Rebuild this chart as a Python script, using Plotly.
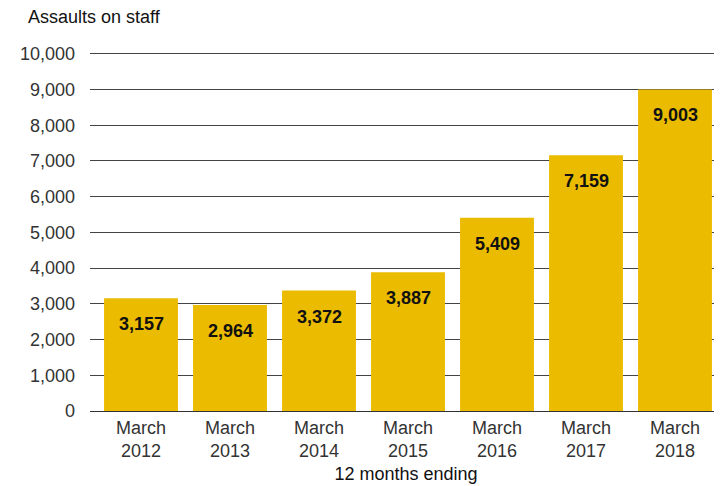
import plotly.graph_objects as go

categories = ["March<br>2012", "March<br>2013", "March<br>2014", "March<br>2015",
              "March<br>2016", "March<br>2017", "March<br>2018"]
values = [3157, 2964, 3372, 3887, 5409, 7159, 9003]
labels = [f"{v:,}" for v in values]
y_ticks = list(range(0, 10001, 1000))
y_tick_text = [f"{t:,}" for t in y_ticks]

FONT = "Liberation Sans, Arial, Helvetica, sans-serif"
FS = 18

fig = go.Figure()
fig.add_trace(go.Bar(
    x=categories, y=values,
    marker=dict(color="#EBBB00", line=dict(width=0)),
    width=0.83,
    hoverinfo="skip",
))
for c, v, t in zip(categories, values, labels):
    fig.add_annotation(x=c, y=v, text=f"<b>{t}</b>", showarrow=False,
                       yanchor="middle", yshift=-26,
                       font=dict(family=FONT, size=18, color="#111111"))

fig.update_layout(
    width=722, height=486,
    margin=dict(l=82, r=8, t=44, b=83),
    plot_bgcolor="white", paper_bgcolor="white",
    showlegend=False,
    font=dict(family=FONT, size=FS, color="#333333"),
    xaxis=dict(
        range=[-0.573, 6.528], automargin=False,
        showgrid=False, showline=False, ticks="",
        ticklabelstandoff=4,
        tickfont=dict(size=FS, color="#333333"),
        title=dict(text="12 months ending", font=dict(size=FS, color="#111111"), standoff=6),
    ),
    yaxis=dict(
        range=[0, 10050], automargin=False,
        tickvals=y_ticks, ticktext=y_tick_text,
        showgrid=True, gridcolor="#444444", gridwidth=1,
        zeroline=True, zerolinecolor="#333333", zerolinewidth=1,
        showline=False, ticks="", ticklabelstandoff=14,
        tickfont=dict(size=FS, color="#333333"),
    ),
)
fig.add_annotation(xref="paper", yref="paper", x=-0.102, y=1.0, yshift=23,
                   xanchor="left", yanchor="bottom", showarrow=False,
                   text="Assaults on staff", font=dict(family=FONT, size=FS, color="#111111"))

fig.write_html("out.html")
